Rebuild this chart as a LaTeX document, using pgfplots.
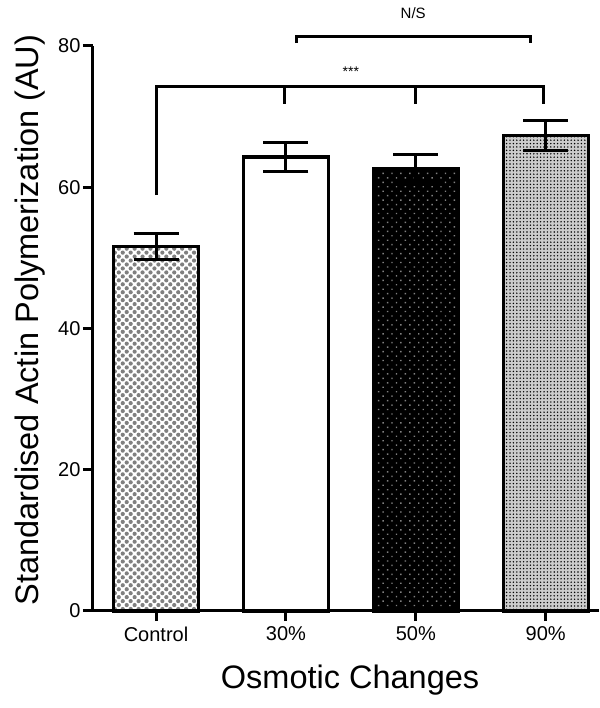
\documentclass[border=0pt]{standalone}
\usepackage{pgfplots}
\pgfplotsset{compat=1.18}
\usetikzlibrary{patterns.meta}
\usepackage{fontspec}
\setmainfont{Liberation Sans}

\begin{document}
\begin{tikzpicture}
\begin{axis}[
  scale only axis,
  width=506pt, height=565pt,
  xmin=-0.485, xmax=3.41,
  ymin=0, ymax=80,
  clip=false,
  axis x line*=bottom, axis y line*=left,
  axis line style={line width=3pt},
  every tick/.style={line width=3pt, black},
  tick align=outside,
  major tick length=10pt,
  xtick={0,1,2,3},
  xticklabels={Control,30\%,50\%,90\%},
  ytick={0,20,40,60,80},
  /pgf/number format/assume math mode=true,
  ticklabel style={font=\fontsize{20}{23}\selectfont},
  xticklabel style={yshift=-2pt},
  yticklabel style={xshift=1pt},
  xlabel={Osmotic Changes},
  ylabel={Standardised Actin Polymerization (AU)},
  label style={font=\fontsize{32.5}{36}\selectfont},
  xlabel style={at={(rel axis cs:0.508,0)}, anchor=center, yshift=-69pt},
  ylabel style={at={(rel axis cs:0,0.515)}, anchor=center, yshift=63pt},
  ybar, bar width=85pt, bar shift=0pt,
  error bars/y dir=both, error bars/y explicit,
  error bars/error bar style={line width=3pt, black},
  error bars/error mark options={rotate=90, mark size=22.5pt, line width=3pt, black},
]
% Control
\addplot[draw=black, line width=3.3pt, fill=white,
  postaction={pattern={Dots[distance=5.6pt, radius=2.1pt, angle=45]}, pattern color=black!50}]
  coordinates {(0,51.6) +- (0,1.8)};
% 30%
\addplot[draw=black, line width=3.3pt, fill=white]
  coordinates {(1,64.3) +- (0,2.0)};
% 50%
\addplot[draw=black, line width=3.3pt, fill=black,
  postaction={pattern={Dots[distance=6.3pt, radius=1pt, angle=45]}, pattern color=gray}]
  coordinates {(2,62.7) +- (0,2.0)};
% 90%
\addplot[draw=black, line width=3.3pt, fill=gray!40,
  postaction={pattern={Dots[distance=3.4pt, radius=0.8pt]}, pattern color=black}]
  coordinates {(3,67.3) +- (0,2.1)};

% significance brackets
\draw[line width=3pt] (axis cs:0,58.9) -- (axis cs:0,74.3) -- (axis cs:2.98,74.3) -- (axis cs:2.98,71.8);
\draw[line width=3pt] (axis cs:0.99,74.3) -- (axis cs:0.99,71.8);
\draw[line width=3pt] (axis cs:2.0,74.3) -- (axis cs:2.0,71.8);
\node[font=\fontsize{14}{16}\selectfont] at (axis cs:1.5,76.4) {***};
\draw[line width=3pt] (axis cs:1.085,80.4) -- (axis cs:1.085,81.3) -- (axis cs:2.88,81.3) -- (axis cs:2.88,80.4);
\node[font=\fontsize{15}{17}\selectfont] at (axis cs:1.98,84.6) {N/S};
\end{axis}
\pgfresetboundingbox
\useasboundingbox (-93pt,-97pt) rectangle (506pt,611pt);
\end{tikzpicture}
\end{document}
